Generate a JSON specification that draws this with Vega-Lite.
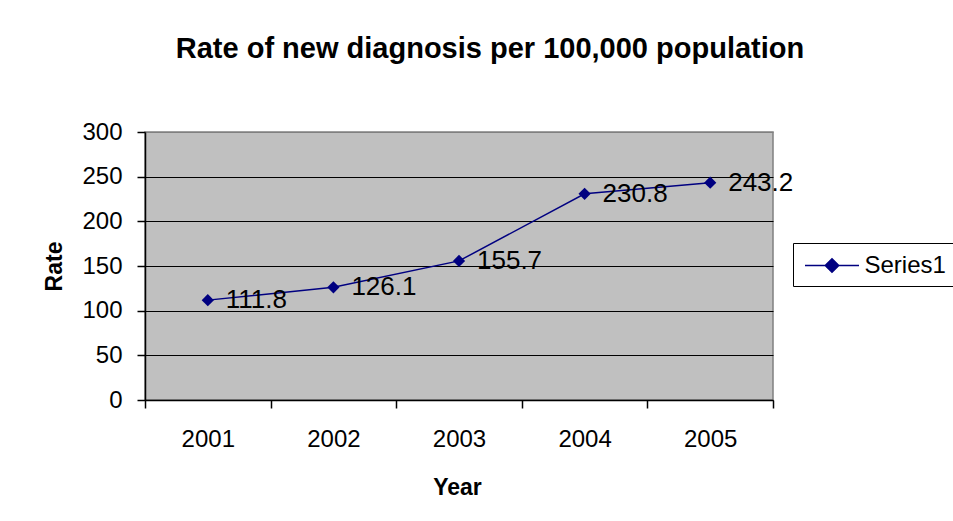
{
  "$schema": "https://vega.github.io/schema/vega-lite/v6.json",
  "width": 628,
  "height": 268,
  "autosize": {"type": "none"},
  "padding": {"left": 145, "top": 132, "right": 180, "bottom": 121},
  "background": "white",
  "config": {
    "font": "Liberation Sans",
    "view": {"fill": "#C0C0C0", "stroke": "#808080", "strokeWidth": 1.5}
  },
  "title": {
    "text": "Rate of new diagnosis per 100,000 population",
    "font": "Liberation Sans",
    "fontSize": 29,
    "fontWeight": "bold",
    "color": "black",
    "anchor": "middle",
    "frame": "group",
    "dx": 31,
    "baseline": "alphabetic",
    "offset": 33
  },
  "data": {
    "values": [
      {"year": "2001", "rate": 111.8, "series": "Series1"},
      {"year": "2002", "rate": 126.1, "series": "Series1"},
      {"year": "2003", "rate": 155.7, "series": "Series1"},
      {"year": "2004", "rate": 230.8, "series": "Series1"},
      {"year": "2005", "rate": 243.2, "series": "Series1"}
    ]
  },
  "encoding": {
    "x": {
      "field": "year",
      "type": "ordinal",
      "scale": {"type": "band", "paddingInner": 0, "paddingOuter": 0},
      "axis": {
        "title": "Year",
        "titleFont": "Liberation Sans",
        "titleFontSize": 23,
        "titleFontWeight": "bold",
        "titleColor": "black",
        "titleBaseline": "alphabetic",
        "titleX": 312,
        "titleY": 94,
        "labelAngle": 0,
        "labelFont": "Liberation Sans",
        "labelFontSize": 24,
        "labelColor": "black",
        "labelBaseline": "alphabetic",
        "labelPadding": 38,
        "tickBand": "extent",
        "tickSize": 8,
        "tickColor": "black",
        "tickWidth": 1.5,
        "domainColor": "black",
        "domainWidth": 1.5,
        "grid": false
      }
    },
    "y": {
      "field": "rate",
      "type": "quantitative",
      "scale": {"domain": [0, 300], "nice": false, "zero": true},
      "axis": {
        "title": "Rate",
        "titleFont": "Liberation Sans",
        "titleFontSize": 23,
        "titleFontWeight": "bold",
        "titleColor": "black",
        "titleAngle": -90,
        "titleBaseline": "middle",
        "titleAlign": "center",
        "titleX": -91,
        "titleY": 134,
        "values": [0, 50, 100, 150, 200, 250, 300],
        "labelFont": "Liberation Sans",
        "labelFontSize": 24,
        "labelColor": "black",
        "labelPadding": 15,
        "tickSize": 8,
        "tickColor": "black",
        "tickWidth": 1.5,
        "domainColor": "black",
        "domainWidth": 1.5,
        "grid": true,
        "gridColor": {"condition": {"test": "datum.value === 300", "value": "#808080"}, "value": "black"},
        "gridWidth": 1.2,
        "gridOpacity": 1
      }
    }
  },
  "layer": [
    {
      "mark": {
        "type": "line",
        "strokeWidth": 1.5,
        "point": {"filled": true, "shape": "diamond", "size": 150, "color": "#000080"}
      },
      "encoding": {
        "color": {
          "field": "series",
          "type": "nominal",
          "scale": {"range": ["#000080"]},
          "legend": {
            "title": null,
            "orient": "none",
            "legendX": 648,
            "legendY": 111,
            "direction": "vertical",
            "strokeColor": "black",
            "fillColor": "white",
            "padding": 8,
            "symbolType": "M-2,0H2M0,-0.5L0.5,0L0,0.5L-0.5,0Z",
            "symbolSize": 729,
            "symbolStrokeWidth": 1.5,
            "symbolOffset": 16.5,
            "labelOffset": 18,
            "labelFont": "Liberation Sans",
            "labelFontSize": 24,
            "labelColor": "black",
            "labelBaseline": "middle",
            "encode": {
              "symbols": {"update": {"fill": {"value": "#000080"}, "stroke": {"value": "#000080"}, "opacity": {"value": 1}}}
            }
          }
        }
      }
    },
    {
      "mark": {
        "type": "text",
        "align": "left",
        "baseline": "middle",
        "dx": 18,
        "dy": 0,
        "fontSize": 26,
        "font": "Liberation Sans",
        "color": "black"
      },
      "encoding": {
        "text": {"field": "rate", "type": "quantitative", "format": ".1f"}
      }
    }
  ]
}
